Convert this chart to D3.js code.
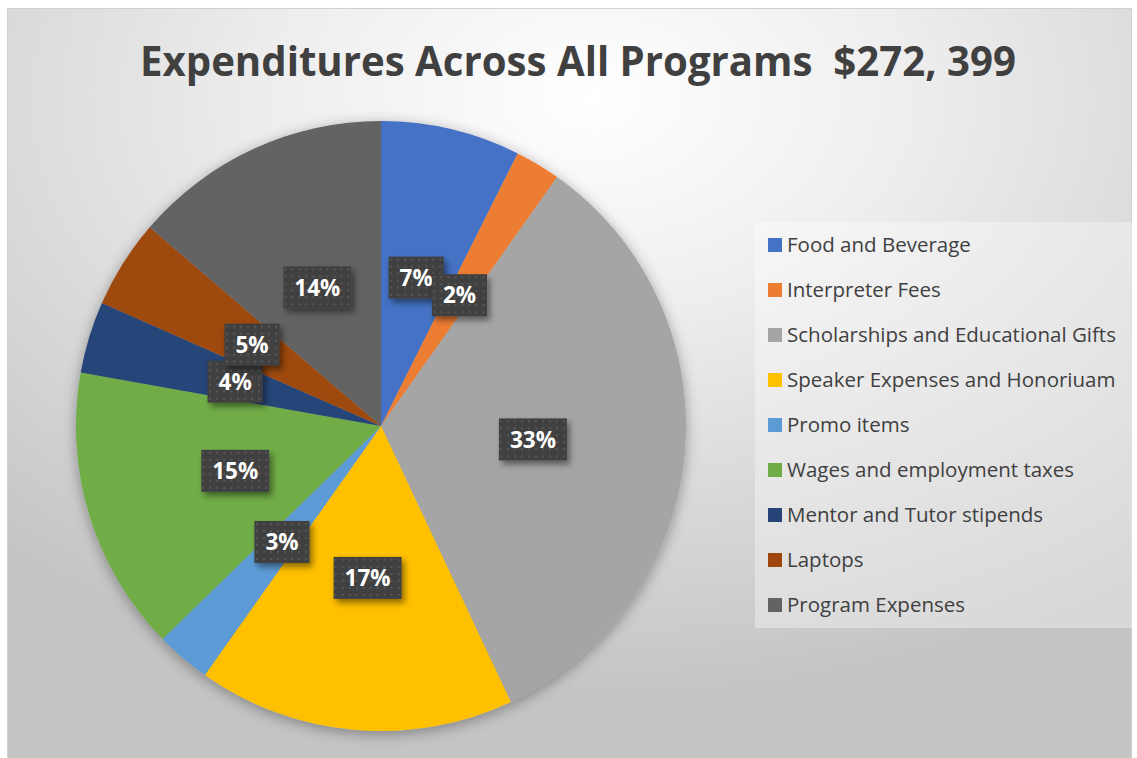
<!DOCTYPE html>
<html>
<head>
<meta charset="utf-8">
<style>
  body { margin: 0; background: #fff; }
  svg { display: block; font-family: "Open Sans", "Noto Sans", sans-serif; }
</style>
<script src="https://cdn.jsdelivr.net/npm/d3@7"></script>
</head>
<body>
<svg id="chart" width="1137" height="758"></svg>
<script>
// data (dollars, total $272,399)
var categories = ["Food and Beverage", "Interpreter Fees", "Scholarships and Educational Gifts",
                  "Speaker Expenses and Honoriuam", "Promo items", "Wages and employment taxes",
                  "Mentor and Tutor stipends", "Laptops", "Program Expenses"];
var amounts = [20158, 6538, 90436, 45763, 7900, 41132, 10351, 12803, 37318];
var colors = ["#4472C4", "#ED7D31", "#A5A5A5", "#FFC000", "#5B9BD5",
              "#70AD47", "#264478", "#9E480E", "#636363"];
var title = "Expenditures Across All Programs  $272, 399";

var svg = d3.select("#chart");
var defs = svg.append("defs");

// background gradient, white near the title, gray at the edges
var bg = defs.append("radialGradient").attr("id", "bg")
    .attr("cx", "52%").attr("cy", "12%").attr("r", "80%")
    .attr("fx", "52%").attr("fy", "12%");
bg.append("stop").attr("offset", "0%").attr("stop-color", "#ffffff");
bg.append("stop").attr("offset", "35%").attr("stop-color", "#eeeeee");
bg.append("stop").attr("offset", "100%").attr("stop-color", "#c4c4c4");

// dotted pattern for the data labels
var pat = defs.append("pattern").attr("id", "dots")
    .attr("width", 7).attr("height", 7).attr("patternUnits", "userSpaceOnUse");
pat.append("rect").attr("width", 7).attr("height", 7).attr("fill", "#404040");
pat.append("rect").attr("x", 2).attr("y", 2).attr("width", 2).attr("height", 2).attr("fill", "#575757");

var pieShadow = defs.append("filter").attr("id", "pieShadow")
    .attr("x", "-20%").attr("y", "-20%").attr("width", "140%").attr("height", "140%");
pieShadow.append("feDropShadow").attr("dx", 0).attr("dy", 3).attr("stdDeviation", 7)
    .attr("flood-color", "#000").attr("flood-opacity", 0.35);

var boxShadow = defs.append("filter").attr("id", "boxShadow")
    .attr("x", "-30%").attr("y", "-30%").attr("width", "160%").attr("height", "160%");
boxShadow.append("feDropShadow").attr("dx", 3).attr("dy", 4).attr("stdDeviation", 3)
    .attr("flood-color", "#000").attr("flood-opacity", 0.45);

// chart area
svg.append("rect")
    .attr("x", 7.5).attr("y", 8.5).attr("width", 1124).attr("height", 752)
    .attr("fill", "url(#bg)").attr("stroke", "#d0d0d0");

svg.append("text")
    .attr("x", 140).attr("y", 76)
    .attr("textLength", 876).attr("lengthAdjust", "spacingAndGlyphs")
    .attr("font-size", 42).attr("font-weight", "bold")
    .attr("fill", "#404040")
    .style("white-space", "pre")
    .text(title);

// pie
var cx = 381, cy = 426, R = 305;
var total = d3.sum(amounts);
var pie = d3.pie().sort(null).value(function(d) { return d; });
var arcs = pie(amounts);
var arc = d3.arc().innerRadius(0).outerRadius(R);
var labelArc = d3.arc().innerRadius(R * 0.5).outerRadius(R * 0.5);

var g = svg.append("g").attr("transform", "translate(" + cx + "," + cy + ")");

g.append("g").attr("filter", "url(#pieShadow)")
  .selectAll("path")
  .data(arcs)
  .join("path")
    .attr("d", arc)
    .attr("fill", function(d, i) { return colors[i]; });

var fmt = d3.format(".0%");
var labels = g.selectAll("g.lbl")
  .data(arcs)
  .join("g")
    .attr("class", "lbl")
    .attr("transform", function(d) { return "translate(" + labelArc.centroid(d) + ")"; });

labels.each(function(d) {
  var lg = d3.select(this);
  var box = lg.append("rect").attr("fill", "url(#dots)").attr("filter", "url(#boxShadow)");
  var t = lg.append("text")
      .attr("text-anchor", "middle")
      .attr("dy", "0.36em")
      .attr("font-size", 22.5).attr("font-weight", "bold")
      .attr("fill", "#fff")
      .text(fmt(d.value / total));
  var w = t.node().getComputedTextLength() + 22;
  box.attr("x", -w / 2).attr("y", -21).attr("width", w).attr("height", 42);
});

// legend
var legend = svg.append("g");
legend.append("rect")
    .attr("x", 755).attr("y", 222).attr("width", 377).attr("height", 406)
    .attr("fill", "#ffffff").attr("fill-opacity", 0.35);

var y = d3.scalePoint().domain(categories).range([245, 605]);
var items = legend.selectAll("g.item")
  .data(categories)
  .join("g")
    .attr("class", "item")
    .attr("transform", function(d) { return "translate(768," + y(d) + ")"; });
items.append("rect")
    .attr("x", 0).attr("y", -7).attr("width", 14).attr("height", 14)
    .attr("fill", function(d, i) { return colors[i]; });
items.append("text")
    .attr("x", 19).attr("dy", "0.36em")
    .attr("font-size", 20.5)
    .attr("fill", "#404040")
    .text(function(d) { return d; });
</script>
</body>
</html>
